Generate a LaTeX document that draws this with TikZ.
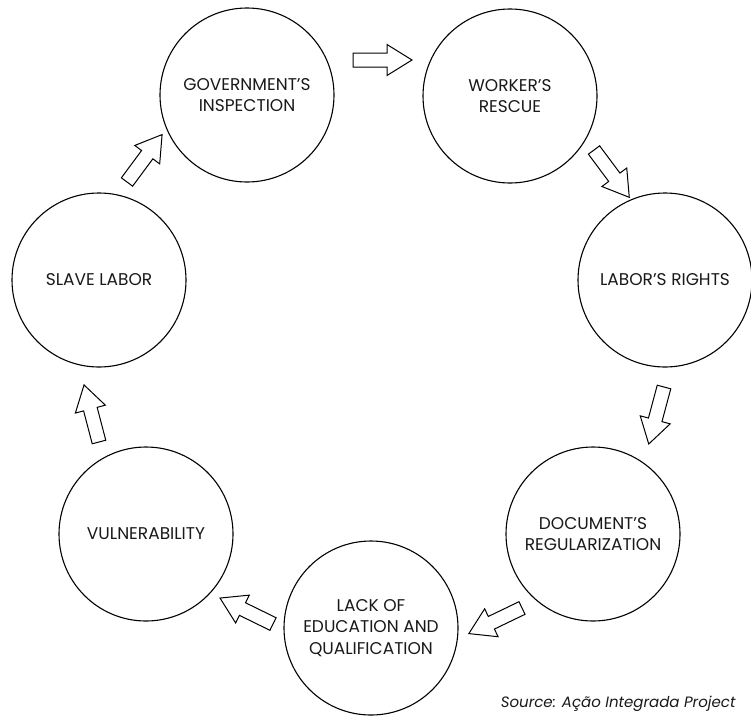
\documentclass[tikz,border=0pt]{standalone}
\usepackage{fontspec}
\setmainfont{Poppins}
\begin{document}
\begin{tikzpicture}[x=1pt,y=-1pt,
  stage/.style={circle,draw,line width=1.1pt,minimum size=174pt,inner sep=0pt,align=center,font=\fontsize{17}{21.5}\selectfont,text=black!90},
  barrow/.style={draw,line width=1pt,fill=white,line join=miter}]
\useasboundingbox (0,0) rectangle (751,715);
\node[stage] (gov) at (247,95) {GOVERNMENT'S\\INSPECTION};
\node[stage] (work) at (510,96) {WORKER'S\\RESCUE};
\node[stage] (rights) at (665,280) {LABOR'S RIGHTS};
\node[stage] (doc) at (593,534) {DOCUMENT'S\\REGULARIZATION};
\node[stage] (lack) at (371,628) {LACK OF\\EDUCATION AND\\QUALIFICATION};
\node[stage] (vul) at (146,534) {VULNERABILITY};
\node[stage] (slave) at (99,280) {SLAVE LABOR};
\newcommand{\blockarr}[3]{%
  \begin{scope}[shift={(#1)},rotate=#2]
  \draw[barrow] (0,-7) -- (34,-7) -- (34,-15.5) -- (59,0) -- (34,15.5) -- (34,7) -- (0,7) -- cycle;
  \coordinate (#3) at (59,0);
  \end{scope}}
\coordinate (a1) at (353,60);
\coordinate (a2) at (594,150);
\coordinate (a3) at (664,387);
\coordinate (a4) at (522,608);
\coordinate (a5) at (273,624);
\coordinate (a6) at (99,442);
\coordinate (a7) at (127,182);
\blockarr{a1}{0}{t1}
\blockarr{a2}{-53.3}{t2}
\blockarr{a3}{-105}{t3}
\blockarr{a4}{-154.3}{t4}
\blockarr{a5}{153.9}{t5}
\blockarr{a6}{104.7}{t6}
\blockarr{a7}{53.5}{t7}
\node[anchor=base east,font=\fontsize{15}{17}\selectfont\itshape,text=black!90] (src) at (739,707) {Source: Ação Integrada Project};
\end{tikzpicture}
\end{document}
